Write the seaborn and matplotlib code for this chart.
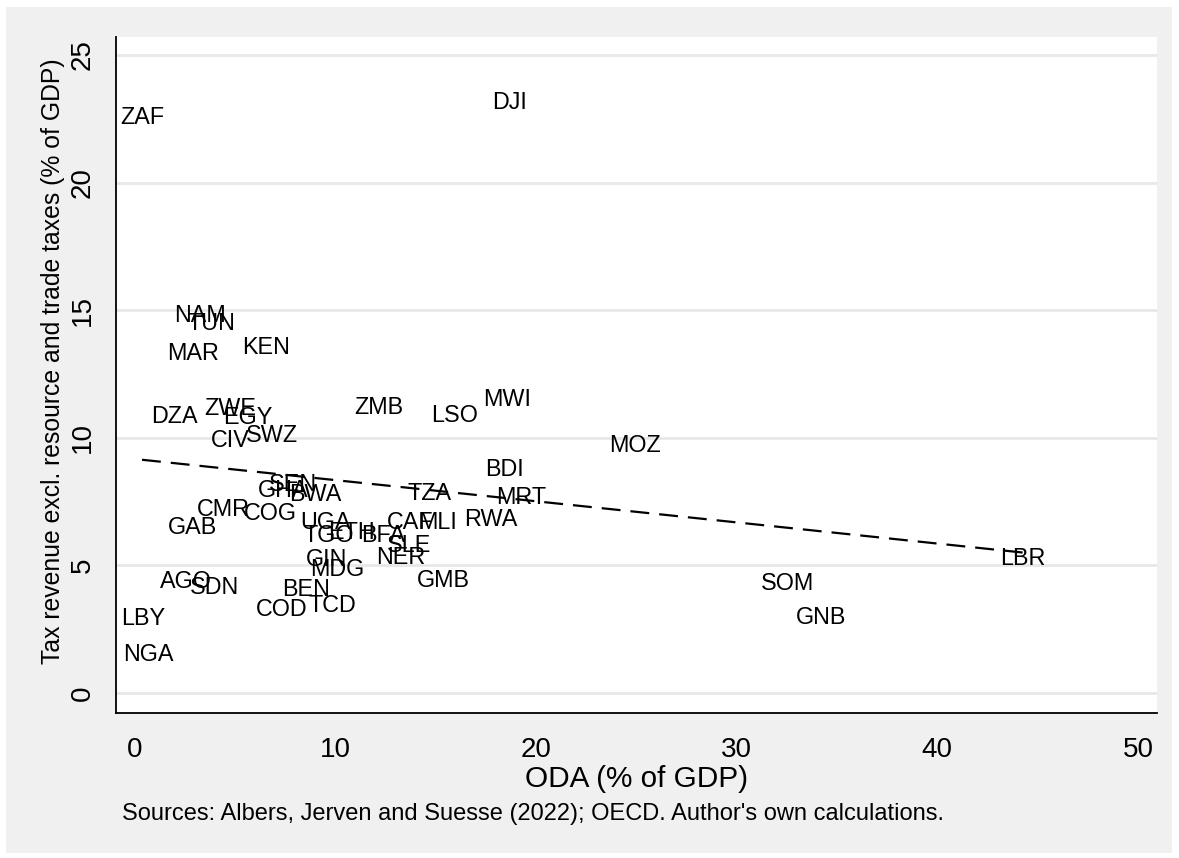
import numpy as np
import pandas as pd
import matplotlib
matplotlib.use("Agg")
import matplotlib.pyplot as plt
from matplotlib.patches import Rectangle
from matplotlib.transforms import offset_copy
import seaborn as sns

# country codes, ODA (% of GDP) and tax revenue (% of GDP)
countries = ["ZAF", "DJI", "NAM", "TUN", "MAR", "KEN", "DZA", "ZWE", "EGY", "CIV",
             "SWZ", "ZMB", "LSO", "MWI", "MOZ", "BDI", "MRT", "TZA", "RWA", "CAF",
             "MLI", "SLE", "NER", "BFA", "ETH", "TGO", "UGA", "GIN", "MDG", "GMB",
             "BEN", "TCD", "COD", "SDN", "AGO", "LBY", "NGA", "GAB", "CMR", "COG",
             "GHA", "SEN", "BWA", "SOM", "GNB", "LBR"]
oda = [0.35, 18.68, 3.24, 3.83, 2.89, 6.52, 1.99, 4.73, 5.63, 4.73,
       6.82, 12.15, 15.94, 18.53, 24.95, 18.43, 19.27, 14.69, 17.73, 13.70,
       15.09, 13.65, 13.25, 12.35, 10.81, 9.66, 9.51, 9.56, 10.10, 15.39,
       8.52, 9.86, 7.32, 3.98, 2.54, 0.40, 0.65, 2.89, 4.43, 6.77,
       7.37, 7.87, 9.01, 32.52, 34.21, 44.25]
tax = [22.65, 23.27, 14.91, 14.60, 13.42, 13.66, 10.95, 11.26, 10.91, 10.00,
       10.20, 11.30, 10.99, 11.62, 9.81, 8.87, 7.77, 7.93, 6.91, 6.79,
       6.79, 5.89, 5.42, 6.28, 6.40, 6.28, 6.79, 5.34, 4.95, 4.51,
       4.16, 3.53, 3.41, 4.24, 4.47, 3.02, 1.61, 6.59, 7.30, 7.14,
       8.05, 8.28, 7.89, 4.40, 3.06, 5.38]

df = pd.DataFrame({"country": countries, "oda": oda, "tax": tax})

sns.set_style("white")
plt.rcParams["font.family"] = ["Liberation Sans", "DejaVu Sans"]
plt.rcParams["text.color"] = "black"
plt.rcParams["xtick.color"] = "black"
plt.rcParams["ytick.color"] = "black"
plt.rcParams["axes.labelcolor"] = "black"

fig = plt.figure(figsize=(11.79, 8.58), dpi=100)
fig.patch.set_facecolor("white")
fig.patches.append(Rectangle((6 / 1179, 1 - 853 / 858), 1166 / 1179, 846 / 858,
                             transform=fig.transFigure, facecolor="#f0f0f0",
                             edgecolor="none", zorder=-10))
ax = fig.add_axes([116 / 1179, 1 - 713 / 858, 1041 / 1179, 676 / 858])
ax.set_facecolor("white")

# linear fit, dashed
sns.regplot(data=df, x="oda", y="tax", scatter=False, ci=None, ax=ax,
            line_kws={"color": "black", "lw": 1.6, "linestyle": (0, (8.5, 4.5))})

# country labels centred on the (invisible) points
trans = offset_copy(ax.transData, fig=fig, x=0, y=-3, units="dots")
for c, xv, yv in zip(df["country"], df["oda"], df["tax"]):
    ax.text(xv, yv, c, ha="center", va="center", fontsize=16.8,
            color="black", transform=trans)

ax.set_xlim(-0.947, 50.95)
ax.set_ylim(-0.78, 25.7)
ax.set_xticks([0, 10, 20, 30, 40, 50])
ax.set_yticks([0, 5, 10, 15, 20, 25])
ax.yaxis.grid(True, color="#e8e8e8", lw=2)
ax.xaxis.grid(False)
ax.set_axisbelow(True)

for s in ["top", "right"]:
    ax.spines[s].set_visible(False)
for s in ["left", "bottom"]:
    ax.spines[s].set_color("black")
    ax.spines[s].set_linewidth(1.3)

ax.tick_params(axis="both", direction="out", length=8.5, width=1.1,
               color="black", labelsize=20)
ax.tick_params(axis="x", pad=9)
ax.tick_params(axis="y", pad=6)
plt.setp(ax.get_yticklabels(), rotation=90, va="center")

ax.set_xlabel("ODA (% of GDP)", fontsize=21.4, labelpad=1)
ax.set_ylabel("Tax revenue excl. resource and trade taxes (% of GDP)", fontsize=17.8)
ax.yaxis.set_label_coords(-51 / 1041, 0.52)

fig.text(122 / 1179, 1 - 814 / 858,
         "Sources: Albers, Jerven and Suesse (2022); OECD. Author's own calculations.",
         fontsize=17, ha="left", va="center")

fig.savefig("out.png", dpi=100)
